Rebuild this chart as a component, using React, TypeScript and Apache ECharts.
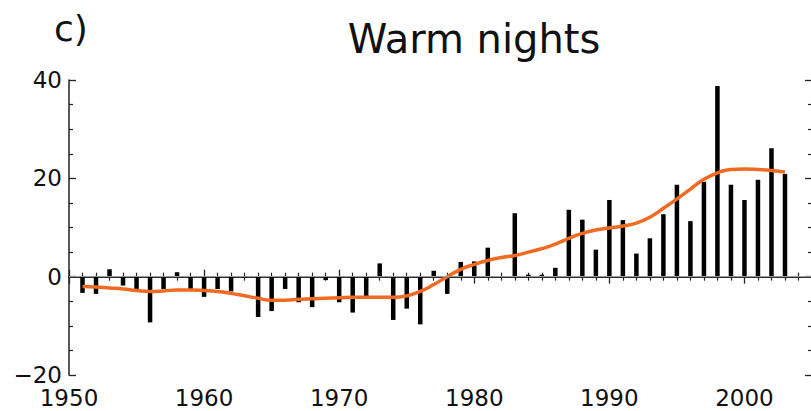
import React, { useEffect, useRef } from "react";
import * as echarts from "echarts";

const years: number[] = [];
for (let y = 1951; y <= 2003; y++) years.push(y);

const barValues = [
  -3.3, -3.5, 1.5, -1.8, -2.5, -9.3, -2.5, 0.9, -2.5, -4.1,
  -2.5, -3.0, -0.2, -8.2, -7.0, -2.5, -5.2, -6.2, -0.7, -5.2,
  -7.3, -4.1, 2.7, -8.8, -6.5, -9.7, 1.2, -3.5, 3.0, 3.1,
  5.9, 0.0, 12.9, 0.4, 0.4, 1.8, 13.6, 11.6, 5.5, 15.6,
  11.5, 4.7, 7.8, 12.7, 18.7, 11.3, 19.3, 38.8, 18.7, 15.6,
  19.7, 26.1, 20.9,
];

const smoothValues = [
  -2.0, -2.1, -2.3, -2.5, -2.8, -3.0, -2.9, -2.7, -2.7, -2.8,
  -3.0, -3.4, -3.9, -4.4, -4.8, -4.8, -4.6, -4.5, -4.4, -4.3,
  -4.2, -4.2, -4.2, -4.2, -3.9, -3.0, -1.6, 0.0, 1.5, 2.5,
  3.3, 3.9, 4.3, 5.0, 5.7, 6.6, 7.8, 8.8, 9.5, 9.9,
  10.3, 10.9, 12.1, 13.9, 15.8, 17.8, 19.8, 21.1, 21.8, 21.9,
  21.8, 21.6, 21.3,
];

const panelLabel = "c)";
const titleText = "Warm nights";

export default function App() {
  const ref = useRef<HTMLDivElement>(null);
  useEffect(() => {
    if (!ref.current) return;
    const chart = echarts.init(ref.current, undefined, { renderer: "svg" });
    const font = "DejaVu Sans";
    const axisLine = { show: true, lineStyle: { color: "#222", width: 1.5 } };
    const tick = { show: true, inside: true, length: 7, lineStyle: { color: "#222", width: 1.3 } };
    const minor = { show: true, length: 4, lineStyle: { color: "#222", width: 1.2 } };
    chart.setOption({
      animation: false,
      backgroundColor: "#fff",
      title: [
        {
          text: panelLabel,
          left: 49,
          top: 5,
          textStyle: { fontFamily: font, fontSize: 36, fontWeight: "normal", color: "#111" },
        },
        {
          text: titleText,
          left: 469,
          textAlign: "center",
          top: 14,
          textStyle: { fontFamily: font, fontSize: 40, fontWeight: "normal", color: "#111" },
        },
      ],
      grid: { left: 69, right: 0, top: 80, bottom: 36, containLabel: false },
      xAxis: [
        {
          type: "value",
          min: 1950,
          max: 2005,
          interval: 10,
          position: "bottom",
          axisLine,
          axisTick: tick,
          minorTick: { ...minor, splitNumber: 10 },
          splitLine: { show: false },
          axisLabel: {
            fontFamily: font,
            fontSize: 23,
            lineHeight: 22,
            color: "#111",
            margin: 12,
            formatter: (v: number) => (v <= 2000 ? String(v) : ""),
          },
        },
        {
          type: "value",
          min: 1950,
          max: 2005,
          interval: 10,
          position: "top",
          axisLine,
          axisTick: tick,
          minorTick: { ...minor, splitNumber: 10 },
          splitLine: { show: false },
          axisLabel: { show: false },
        },
      ],
      yAxis: [
        {
          type: "value",
          min: -20,
          max: 40,
          interval: 20,
          position: "left",
          axisLine,
          axisTick: tick,
          minorTick: { ...minor, splitNumber: 4 },
          splitLine: { show: false },
          axisLabel: {
            fontFamily: font,
            fontSize: 23,
            lineHeight: 20,
            color: "#111",
            margin: 7,
            formatter: (v: number) => String(v).replace("-", "\u2212"),
          },
        },
        {
          type: "value",
          min: -20,
          max: 40,
          interval: 20,
          position: "right",
          axisLine,
          axisTick: tick,
          minorTick: { ...minor, splitNumber: 4 },
          splitLine: { show: false },
          axisLabel: { show: false },
        },
      ],
      series: [
        {
          type: "bar",
          xAxisIndex: 0,
          yAxisIndex: 0,
          barWidth: 4.5,
          itemStyle: { color: "#000" },
          data: years.map((y, i) => [y, barValues[i]]),
          markLine: {
            silent: true,
            symbol: "none",
            label: { show: false },
            lineStyle: { color: "#999", width: 1, type: "solid" },
            data: [{ yAxis: 0 }],
          },
          z: 2,
        },
        {
          type: "line",
          xAxisIndex: 0,
          yAxisIndex: 0,
          smooth: 0.5,
          showSymbol: false,
          symbol: "none",
          lineStyle: { color: "#F06B22", width: 3.5 },
          itemStyle: { color: "#F06B22" },
          data: years.map((y, i) => [y, smoothValues[i]]),
          z: 3,
        },
      ],
    });
    return () => chart.dispose();
  }, []);
  return (
    <div
      style={{
        position: "absolute",
        left: 0,
        top: 0,
        width: 811,
        height: 411,
        overflow: "hidden",
        background: "#fff",
      }}
    >
      <div ref={ref} style={{ width: 815, height: 411 }} />
    </div>
  );
}
